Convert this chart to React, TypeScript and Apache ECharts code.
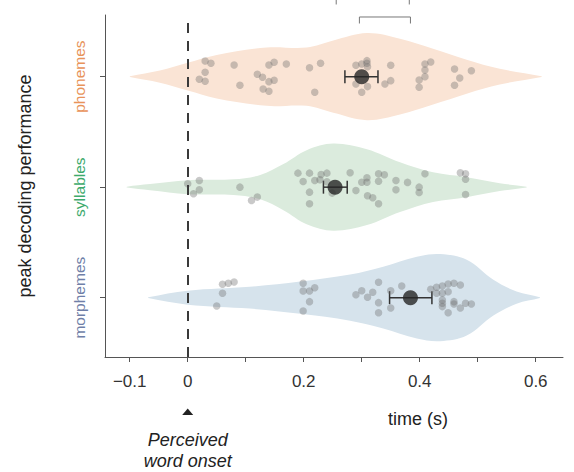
import React, { useEffect, useRef } from "react";
import * as echarts from "echarts";

// ---- data ----
const categories = ["morphemes", "syllables", "phonemes"]; // y = 0, 1, 2
const categoryColors = ["#6F7FA8", "#3DAA6C", "#E8935A"];
const violinColors = ["#D6E3EC", "#DBEBDD", "#FAE4D5"];

// violin density profiles [time, relative density]
const morphemeDensity = [
  [-0.068, 0.01], [0.0, 0.16], [0.107, 0.25], [0.194, 0.37], [0.28, 0.53], [0.337, 0.71],
  [0.395, 0.94], [0.435, 1.0], [0.481, 0.87], [0.527, 0.41], [0.567, 0.14], [0.607, 0.01],
];
const syllableDensity = [
  [-0.105, 0.01], [-0.065, 0.07], [0.0, 0.16], [0.079, 0.18], [0.125, 0.28], [0.165, 0.53],
  [0.205, 0.85], [0.251, 1.0], [0.309, 0.87], [0.366, 0.57], [0.423, 0.34], [0.481, 0.23],
  [0.538, 0.09], [0.584, 0.01],
];
const phonemeDensity = [
  [-0.0995, 0.01], [-0.048, 0.14], [0.0, 0.32], [0.05, 0.5], [0.136, 0.67], [0.205, 0.67],
  [0.251, 0.83], [0.309, 1.0], [0.366, 0.87], [0.423, 0.64], [0.481, 0.39], [0.538, 0.18],
  [0.61, 0.01],
];

// subject peaks [time (s), jitter]
const phonemePoints = [
  [0.03, 0.142], [0.04, 0.121], [0.03, 0.04], [0.02, -0.024], [0.03, -0.042], [0.08, 0.106],
  [0.09, -0.078], [0.12, 0.022], [0.129, -0.005], [0.14, -0.045], [0.14, 0.106], [0.149, 0.13],
  [0.149, -0.033], [0.13, -0.111], [0.14, -0.132], [0.17, 0.115], [0.21, 0.081], [0.229, 0.121],
  [0.219, -0.141], [0.29, 0.103], [0.3, 0.115], [0.309, 0.145], [0.309, 0.121], [0.31, 0.09],
  [0.29, -0.066], [0.3, -0.141], [0.31, -0.09], [0.35, 0.103], [0.35, -0.036], [0.34, -0.066],
  [0.399, -0.03], [0.399, -0.096], [0.409, 0.0], [0.409, 0.061], [0.409, 0.115], [0.419, 0.133],
  [0.46, 0.07], [0.469, -0.012], [0.46, -0.078], [0.489, 0.054],
];
const syllablePoints = [
  [0.0, 0.031], [0.02, 0.061], [0.02, -0.024], [0.01, -0.06], [0.09, 0.0], [0.11, -0.12],
  [0.12, -0.09], [0.19, 0.127], [0.21, 0.127], [0.199, 0.052], [0.219, 0.061], [0.23, 0.115],
  [0.24, 0.127], [0.228, 0.067], [0.24, 0.049], [0.21, -0.045], [0.21, -0.15], [0.249, -0.054],
  [0.28, 0.13], [0.29, -0.03], [0.3, 0.045], [0.309, 0.085], [0.309, 0.045], [0.31, -0.078],
  [0.319, -0.096], [0.329, 0.121], [0.339, 0.112], [0.329, 0.054], [0.329, -0.15], [0.359, 0.061],
  [0.359, -0.024], [0.379, 0.043], [0.399, 0.0], [0.399, -0.048], [0.409, 0.121], [0.47, 0.13],
  [0.479, 0.121], [0.479, 0.072], [0.479, -0.066],
];
const morphemePoints = [
  [0.05, -0.075], [0.06, 0.04], [0.06, 0.121], [0.07, 0.13], [0.08, 0.142], [0.199, 0.13],
  [0.199, 0.061], [0.21, 0.061], [0.219, 0.09], [0.21, -0.036], [0.199, -0.12], [0.29, 0.027],
  [0.3, 0.063], [0.31, 0.004], [0.319, 0.049], [0.329, 0.139], [0.329, -0.045], [0.329, -0.136],
  [0.35, 0.063], [0.35, -0.093], [0.369, 0.106], [0.419, 0.076], [0.429, 0.094], [0.429, 0.04],
  [0.439, 0.106], [0.439, 0.04], [0.449, 0.124], [0.459, 0.13], [0.47, 0.115], [0.449, 0.054],
  [0.439, -0.021], [0.439, -0.051], [0.439, -0.081], [0.459, -0.036], [0.459, -0.057],
  [0.47, -0.093], [0.479, -0.051], [0.489, -0.057], [0.449, -0.136],
];

// mean and error bounds per category [mean, low, high]
const meanValues = [0.384, 0.254, 0.3];
const errorLow = [0.348, 0.234, 0.271];
const errorHigh = [0.421, 0.275, 0.328];

// significance brackets [from, to, level]
const brackets = [
  [0.296, 0.384, 2.54],
  [0.256, 0.382, 2.712],
];

const xLabelValues = [-0.1, 0, 0.2, 0.4, 0.6];
const xTickValues = [-0.1, 0, 0.1, 0.2, 0.3, 0.4, 0.5, 0.6];

const FONT = "'Liberation Sans', Arial, Helvetica, sans-serif";

export default function App() {
  const ref = useRef<HTMLDivElement>(null);
  useEffect(() => {
    document.body.style.margin = "0";
    const chart = echarts.init(ref.current!, null, { renderer: "svg" });
    const densities = [morphemeDensity, syllableDensity, phonemeDensity];
    const pointSets = [morphemePoints, syllablePoints, phonemePoints];
    const VIOLIN_SCALE = 0.394;

    const scatterData: number[][] = [];
    pointSets.forEach((pts, cat) => pts.forEach(([t, j]) => scatterData.push([t, cat + j])));

    const option: any = {
      animation: false,
      textStyle: { fontFamily: FONT },
      grid: { left: 105, right: 11, top: 15, bottom: 115 },
      xAxis: {
        type: "value",
        min: -0.1426,
        max: 0.647,
        splitLine: { show: false },
        axisLine: { onZero: false, lineStyle: { color: "#555", width: 1 } },
        axisTick: { customValues: xTickValues, length: 5, lineStyle: { color: "#555" } },
        axisLabel: {
          customValues: xLabelValues,
          color: "#333",
          fontSize: 17,
          fontFamily: FONT,
          margin: 16,
          formatter: (v: number) => (v === 0 ? "0" : v < 0 ? "\u2212" + Math.abs(v).toFixed(1) : v.toFixed(1)),
        },
      },
      yAxis: {
        type: "value",
        min: -0.537,
        max: 2.558,
        splitLine: { show: false },
        name: "peak decoding performance",
        nameLocation: "middle",
        nameGap: 71,
        nameRotate: 90,
        nameTextStyle: { fontSize: 18, color: "#222", fontFamily: FONT },
        axisLine: { show: true, onZero: false, lineStyle: { color: "#555", width: 1 } },
        axisTick: { show: true, customValues: [0, 1, 2], length: 5, lineStyle: { color: "#555" } },
        axisLabel: {
          customValues: [0, 1, 2],
          rotate: 90,
          margin: 18,
          fontSize: 15.5,
          fontFamily: FONT,
          formatter: (v: number) => {
            const i = Math.round(v);
            return `{c${i}|${categories[i]}}`;
          },
          rich: {
            c0: { color: categoryColors[0], fontSize: 15.5, fontFamily: FONT },
            c1: { color: categoryColors[1], fontSize: 15.5, fontFamily: FONT },
            c2: { color: categoryColors[2], fontSize: 15.5, fontFamily: FONT },
          },
        },
      },
      series: [
        {
          type: "custom",
          name: "violins",
          data: [[0], [1], [2]],
          renderItem: (params: any, api: any) => {
            const idx = params.dataIndex;
            const cat = api.value(0);
            const prof = densities[idx];
            const top = prof.map(([t, d]) => api.coord([t, cat + d * VIOLIN_SCALE]));
            const bot = prof
              .slice()
              .reverse()
              .map(([t, d]) => api.coord([t, cat - d * VIOLIN_SCALE]));
            return {
              type: "polygon",
              shape: { points: top.concat(bot), smooth: 0.35 },
              style: { fill: violinColors[idx] },
            };
          },
          markLine: {
            silent: true,
            symbol: "none",
            label: { show: false },
            lineStyle: { color: "#3a3a3a", width: 2, type: [10, 8] },
            data: [{ xAxis: 0 }],
            z: 10,
          },
        },
        {
          type: "scatter",
          name: "subjects",
          data: scatterData,
          symbolSize: 7.5,
          itemStyle: { color: "rgba(105,105,105,0.45)" },
        },
        {
          type: "custom",
          name: "errorbars",
          data: meanValues.map((m, i) => [errorLow[i], errorHigh[i], i]),
          renderItem: (params: any, api: any) => {
            const lo = api.coord([api.value(0), api.value(2)]);
            const hi = api.coord([api.value(1), api.value(2)]);
            const cap = 6.5;
            const st = { stroke: "#333", lineWidth: 1.5 };
            return {
              type: "group",
              children: [
                { type: "line", shape: { x1: lo[0], y1: lo[1], x2: hi[0], y2: hi[1] }, style: st },
                { type: "line", shape: { x1: lo[0], y1: lo[1] - cap, x2: lo[0], y2: lo[1] + cap }, style: st },
                { type: "line", shape: { x1: hi[0], y1: hi[1] - cap, x2: hi[0], y2: hi[1] + cap }, style: st },
              ],
            };
          },
        },
        {
          type: "scatter",
          name: "means",
          data: meanValues.map((m, i) => [m, i]),
          symbolSize: 15,
          itemStyle: { color: "#262626" },
          z: 5,
        },
        {
          type: "custom",
          name: "brackets",
          clip: false,
          data: brackets,
          renderItem: (params: any, api: any) => {
            const a = api.coord([api.value(0), api.value(2)]);
            const b = api.coord([api.value(1), api.value(2)]);
            const leg = 6.5;
            return {
              type: "polyline",
              shape: { points: [[a[0], a[1] + leg], a, b, [b[0], b[1] + leg]] },
              style: { stroke: "#777", lineWidth: 1, fill: "none" },
            };
          },
        },
        {
          type: "custom",
          name: "onset",
          clip: false,
          data: [[0, -1.034]],
          renderItem: (params: any, api: any) => {
            const p = api.coord([api.value(0), api.value(1)]);
            return {
              type: "group",
              children: [
                {
                  type: "polygon",
                  shape: { points: [[p[0] - 5.5, p[1] + 3], [p[0] + 5.5, p[1] + 3], [p[0], p[1] - 3.5]] },
                  style: { fill: "#222" },
                },
                {
                  type: "text",
                  x: p[0],
                  y: p[1] + 39,
                  style: {
                    text: "Perceived\nword onset",
                    fontSize: 18,
                    fontStyle: "italic",
                    fontFamily: FONT,
                    fill: "#222",
                    align: "center",
                    verticalAlign: "middle",
                    lineHeight: 21,
                  },
                },
              ],
            };
          },
        },
      ],
      graphic: [
        {
          type: "text",
          left: 388,
          top: 410,
          style: { text: "time (s)", fontSize: 18, fontFamily: FONT, fill: "#222" },
        },
      ],
    };
    chart.setOption(option);
    return () => chart.dispose();
  }, []);
  return <div ref={ref} style={{ width: 574, height: 472 }} />;
}
